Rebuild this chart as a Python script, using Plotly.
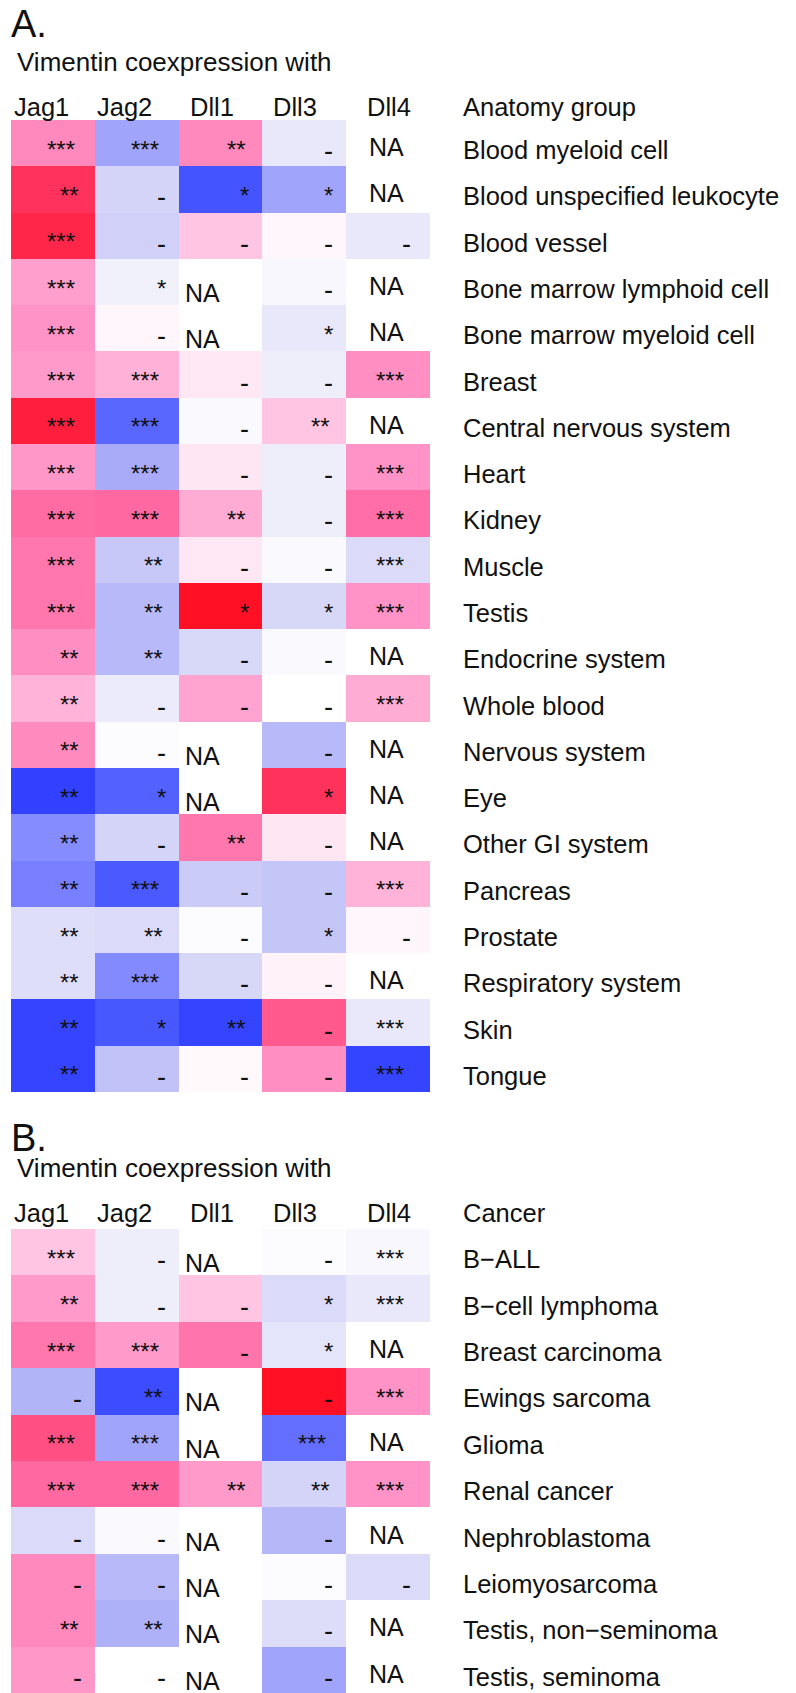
import plotly.graph_objects as go

# ---------------- data ----------------
genes = ["Jag1", "Jag2", "Dll1", "Dll3", "Dll4"]

anatomy = ["Blood myeloid cell", "Blood unspecified leukocyte", "Blood vessel",
           "Bone marrow lymphoid cell", "Bone marrow myeloid cell", "Breast",
           "Central nervous system", "Heart", "Kidney", "Muscle", "Testis",
           "Endocrine system", "Whole blood", "Nervous system", "Eye",
           "Other GI system", "Pancreas", "Prostate", "Respiratory system",
           "Skin", "Tongue"]

a_jag1 = [0.55, 0.88, 0.92, 0.45, 0.5, 0.47, 0.95, 0.48, 0.68, 0.63, 0.63, 0.52, 0.37, 0.54, -0.97, -0.65, -0.7, -0.22, -0.22, -0.95, -0.95]
a_jag1_sig = ["***", "**", "***", "***", "***", "***", "***", "***", "***", "***", "***", "**", "**", "**", "**", "**", "**", "**", "**", "**", "**"]
a_jag2 = [-0.55, -0.3, -0.32, -0.08, 0.05, 0.38, -0.8, -0.52, 0.7, -0.37, -0.45, -0.45, -0.12, -0.02, -0.82, -0.3, -0.85, -0.25, -0.66, -0.86, -0.4]
a_jag2_sig = ["***", "-", "-", "*", "-", "***", "***", "***", "***", "**", "**", "**", "-", "-", "*", "-", "***", "**", "***", "*", "-"]
a_dll1 = [0.55, -0.88, 0.3, None, None, 0.12, -0.03, 0.13, 0.4, 0.12, 1.0, -0.27, 0.43, None, None, 0.63, -0.35, -0.02, -0.28, -0.95, 0.03]
a_dll1_sig = ["**", "*", "-", "NA", "NA", "-", "-", "-", "**", "-", "*", "-", "-", "NA", "NA", "**", "-", "-", "-", "**", "-"]
a_dll3 = [-0.15, -0.55, 0.05, -0.05, -0.15, -0.1, 0.3, -0.1, -0.1, -0.03, -0.28, -0.03, 0.0, -0.45, 0.88, 0.13, -0.38, -0.38, 0.07, 0.75, 0.52]
a_dll3_sig = ["-", "*", "-", "-", "*", "-", "**", "-", "-", "-", "*", "-", "-", "-", "*", "-", "-", "*", "-", "-", "-"]
a_dll4 = [None, None, -0.15, None, None, 0.52, None, 0.5, 0.67, -0.25, 0.5, None, 0.4, None, None, None, 0.37, 0.05, None, -0.15, -0.95]
a_dll4_sig = ["NA", "NA", "-", "NA", "NA", "***", "NA", "***", "***", "***", "***", "NA", "***", "NA", "NA", "NA", "***", "-", "NA", "***", "***"]

cancers = ["B\u2212ALL", "B\u2212cell lymphoma", "Breast carcinoma", "Ewings sarcoma",
           "Glioma", "Renal cancer", "Nephroblastoma", "Leiomyosarcoma",
           "Testis, non\u2212seminoma", "Testis, seminoma"]

b_jag1 = [0.3, 0.47, 0.63, -0.48, 0.78, 0.7, -0.25, 0.55, 0.55, 0.48]
b_jag1_sig = ["***", "**", "***", "-", "***", "***", "-", "-", "**", "-"]
b_jag2 = [-0.1, -0.1, 0.47, -0.92, -0.55, 0.7, -0.03, -0.45, -0.5, 0.0]
b_jag2_sig = ["-", "-", "***", "**", "***", "***", "-", "-", "**", "-"]
b_dll1 = [None, 0.3, 0.64, None, None, 0.47, None, None, None, None]
b_dll1_sig = ["NA", "-", "-", "NA", "NA", "**", "NA", "NA", "NA", "NA"]
b_dll3 = [-0.02, -0.25, -0.18, 1.0, -0.77, -0.3, -0.46, -0.02, -0.23, -0.55]
b_dll3_sig = ["-", "*", "*", "-", "***", "**", "-", "-", "-", "-"]
b_dll4 = [-0.05, -0.15, None, 0.5, None, 0.5, None, -0.25, None, None]
b_dll4_sig = ["***", "***", "NA", "***", "NA", "***", "NA", "-", "NA", "NA"]

# ---------------- style ----------------
PAGE_W, PAGE_H = 796, 1693
BODY = 8                      # default body margin of the html page
W, H = PAGE_W - BODY, PAGE_H - BODY
FONT = "Liberation Sans, Arial, Helvetica, sans-serif"
TXT = "#111111"
colorscale = [
    [0.0, "#2B3BFF"], [0.075, "#4A5AFF"], [0.15, "#7880FF"], [0.25, "#AEB0F8"],
    [0.35, "#D4D4F8"], [0.45, "#EEEEFB"], [0.5, "#FFFFFF"], [0.55, "#FFECF6"],
    [0.65, "#FFC5E2"], [0.75, "#FF92C6"], [0.85, "#FF68A0"], [0.925, "#FF3A6A"],
    [1.0, "#FF1025"],
]


def px_x(px):  # page pixel from left -> paper fraction
    return max(0.0, (px - BODY) / W)


def px_y(px):  # page pixel from top -> paper fraction
    return 1 - (px - BODY) / H


panels = [
    dict(rows=anatomy, cols=[a_jag1, a_jag2, a_dll1, a_dll3, a_dll4],
         sigs=[a_jag1_sig, a_jag2_sig, a_dll1_sig, a_dll3_sig, a_dll4_sig],
         top=120, bottom=1092, head=107, title=62, letter=24, letter_txt="A.",
         group="Anatomy group", xa="x", ya="y"),
    dict(rows=cancers, cols=[b_jag1, b_jag2, b_dll1, b_dll3, b_dll4],
         sigs=[b_jag1_sig, b_jag2_sig, b_dll1_sig, b_dll3_sig, b_dll4_sig],
         top=1229, bottom=1693, head=1213, title=1168, letter=1138, letter_txt="B.",
         group="Cancer", xa="x2", ya="y2"),
]

sig_offset = {"***": 18, "**": 14, "*": 11, "-": 11}
sig_size = {"***": 24, "**": 24, "*": 24, "-": 27}
sig_yshift = {"***": -6, "**": -6, "*": -6, "-": -8}
col_extra = [0, 0, 0, 0, 6]
na_xshift = [0, 0, -18, 0, -2]
na_yshift = [0, 0, -11, 0, -4]
head_left = [14, 97, 190, 273, 367]
LABEL_X = 461
LABEL_YSHIFT = -7

fig = go.Figure()
annotations = []
layout_axes = {}

for k, p in enumerate(panels):
    n = len(p["rows"])
    z = [[p["cols"][j][i] for j in range(len(genes))] for i in range(n)]
    fig.add_trace(go.Heatmap(
        z=z, x=genes, y=p["rows"], colorscale=colorscale, zmin=-1, zmax=1,
        showscale=False, hoverinfo="skip", xaxis=p["xa"], yaxis=p["ya"],
        xgap=0, ygap=0))
    xname = "xaxis" if p["xa"] == "x" else "xaxis2"
    yname = "yaxis" if p["ya"] == "y" else "yaxis2"
    layout_axes[xname] = dict(domain=[px_x(11), px_x(430)], anchor=p["ya"], visible=False,
                              range=[-0.5, 4.5], fixedrange=True)
    layout_axes[yname] = dict(domain=[max(0, px_y(p["bottom"])), px_y(p["top"])],
                              anchor=p["xa"], visible=False, range=[n - 0.5, -0.5],
                              fixedrange=True)

    # cell texts
    for i in range(n):
        for j in range(len(genes)):
            s = p["sigs"][j][i]
            if s == "NA":
                annotations.append(dict(
                    x=j, y=i, xref=p["xa"], yref=p["ya"], text="NA", showarrow=False,
                    xanchor="center", yanchor="middle", xshift=na_xshift[j],
                    yshift=na_yshift[j], font=dict(family=FONT, size=25, color=TXT)))
            else:
                annotations.append(dict(
                    x=j + 0.5, y=i, xref=p["xa"], yref=p["ya"], text=s, showarrow=False,
                    xanchor="right", yanchor="middle",
                    xshift=-(sig_offset[s] + col_extra[j]), yshift=sig_yshift[s],
                    font=dict(family=FONT, size=sig_size[s], color=TXT)))
        # row labels
        annotations.append(dict(
            x=px_x(LABEL_X), y=i, xref="paper", yref=p["ya"], text=p["rows"][i],
            showarrow=False, xanchor="left", yanchor="middle", yshift=LABEL_YSHIFT,
            font=dict(family=FONT, size=25.5, color=TXT)))

    # headers
    for j, g in enumerate(genes):
        annotations.append(dict(
            x=px_x(head_left[j] - 2), y=px_y(p["head"]), xref="paper", yref="paper",
            text=g, showarrow=False, xanchor="left", yanchor="middle",
            font=dict(family=FONT, size=25.5, color=TXT)))
    annotations.append(dict(
        x=px_x(LABEL_X), y=px_y(p["head"]), xref="paper", yref="paper", text=p["group"],
        showarrow=False, xanchor="left", yanchor="middle",
        font=dict(family=FONT, size=25.5, color=TXT)))
    annotations.append(dict(
        x=px_x(15), y=px_y(p["title"]), xref="paper", yref="paper",
        text="Vimentin coexpression with", showarrow=False, xanchor="left",
        yanchor="middle", font=dict(family=FONT, size=26, color=TXT)))
    annotations.append(dict(
        x=px_x(9), y=px_y(p["letter"]), xref="paper", yref="paper", text=p["letter_txt"],
        showarrow=False, xanchor="left", yanchor="middle",
        font=dict(family=FONT, size=38, color=TXT)))

fig.update_layout(
    width=W, height=H, margin=dict(l=0, r=0, t=0, b=0),
    paper_bgcolor="white", plot_bgcolor="white",
    annotations=annotations, showlegend=False, **layout_axes)

fig.write_html("out.html")
